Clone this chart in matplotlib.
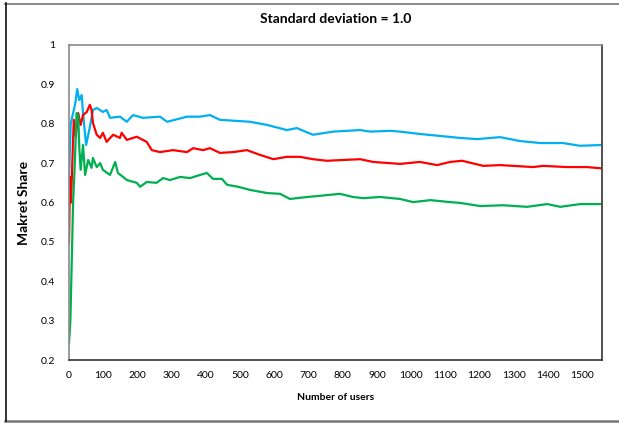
import matplotlib
matplotlib.use("Agg")
import matplotlib.pyplot as plt

title = "Standard deviation = 1.0"
xlabel = "Number of users"
ylabel = "Makret Share"
xticks = list(range(0, 1600, 100))
yticks = [0.2, 0.3, 0.4, 0.5, 0.6, 0.7, 0.8, 0.9, 1.0]
ytick_labels = ["0.2", "0.3", "0.4", "0.5", "0.6", "0.7", "0.8", "0.9", "1"]

blue_x = [0, 5, 12, 18, 24, 30, 37, 41, 50, 61, 70, 81, 99, 110, 120, 149, 169, 187, 216,
          266, 287, 345, 383, 412, 441, 529, 579, 637, 666, 713, 772, 851, 880, 938, 968,
          1026, 1085, 1143, 1193, 1260, 1319, 1377, 1444, 1494, 1553]
blue_y = [0.66, 0.80, 0.827, 0.85, 0.888, 0.86, 0.873, 0.827, 0.746, 0.792, 0.835, 0.84, 0.83,
          0.835, 0.815, 0.818, 0.805, 0.822, 0.815, 0.818, 0.805, 0.818, 0.818, 0.822, 0.81,
          0.805, 0.797, 0.784, 0.789, 0.772, 0.78, 0.784, 0.78, 0.782, 0.78, 0.774, 0.769,
          0.764, 0.761, 0.766, 0.756, 0.751, 0.751, 0.744, 0.746]

red_x = [0, 3, 6, 10, 14, 20, 27, 34, 41, 52, 61, 66, 70, 81, 91, 99, 110, 129, 149, 154, 169,
         198, 227, 242, 266, 304, 345, 363, 392, 412, 441, 480, 520, 558, 597, 637, 675, 713,
         754, 801, 851, 889, 968, 1026, 1076, 1114, 1149, 1211, 1260, 1357, 1386, 1456, 1514,
         1553]
red_y = [0.497, 0.665, 0.60, 0.71, 0.81, 0.767, 0.827, 0.797, 0.822, 0.83, 0.848, 0.835, 0.802,
         0.772, 0.764, 0.777, 0.754, 0.772, 0.764, 0.777, 0.759, 0.767, 0.754, 0.733, 0.728,
         0.733, 0.728, 0.738, 0.733, 0.738, 0.726, 0.728, 0.733, 0.721, 0.71, 0.716, 0.716,
         0.71, 0.706, 0.708, 0.71, 0.703, 0.698, 0.703, 0.695, 0.703, 0.706, 0.693, 0.695,
         0.690, 0.693, 0.690, 0.690, 0.687]

green_x = [0, 4, 8, 12, 17, 22, 27, 30, 34, 41, 47, 56, 66, 70, 81, 91, 99, 120, 135, 143, 158,
           169, 198, 208, 227, 256, 275, 295, 325, 354, 383, 403, 421, 447, 462, 494, 529, 579,
           617, 646, 696, 734, 792, 830, 860, 909, 968, 1006, 1056, 1114, 1143, 1202, 1269,
           1339, 1398, 1436, 1494, 1553]
green_y = [0.243, 0.30, 0.45, 0.60, 0.70, 0.827, 0.822, 0.741, 0.683, 0.746, 0.67, 0.708, 0.688,
           0.713, 0.69, 0.70, 0.683, 0.67, 0.703, 0.675, 0.665, 0.657, 0.650, 0.64, 0.652, 0.65,
           0.662, 0.657, 0.665, 0.662, 0.67, 0.675, 0.66, 0.66, 0.645, 0.64, 0.632, 0.624,
           0.622, 0.609, 0.614, 0.617, 0.622, 0.614, 0.611, 0.614, 0.609, 0.601, 0.606, 0.601,
           0.599, 0.591, 0.593, 0.589, 0.596, 0.589, 0.596, 0.596]

W, H = 619, 424
fig = plt.figure(figsize=(W / 100, H / 100), dpi=100)
plt.rcParams['font.family'] = ['Lato', 'DejaVu Sans']

def fx(px):
    return px / W

def fy(py):
    return 1 - py / H

# figure outline: gray top and bottom, black left, no right edge
fig.add_artist(plt.Line2D([fx(5), fx(619)], [fy(3.5), fy(3.5)], transform=fig.transFigure,
                          color='#808080', linewidth=1.3))
fig.add_artist(plt.Line2D([fx(5), fx(619)], [fy(420.5), fy(420.5)], transform=fig.transFigure,
                          color='#777777', linewidth=1.8))
fig.add_artist(plt.Line2D([fx(5.5), fx(5.5)], [fy(3), fy(421)], transform=fig.transFigure,
                          color='#111111', linewidth=1.2))

left, right, top, bottom = 69, 602, 45, 360
ax = fig.add_axes([left / W, 1 - bottom / H, (right - left) / W, (bottom - top) / H])

ax.plot(blue_x, blue_y, color='#00B0F0', linewidth=1.6)
ax.plot(red_x, red_y, color='#FF0000', linewidth=1.6)
ax.plot(green_x, green_y, color='#00B050', linewidth=1.6)

ax.set_xlim(0, 1558)
ax.set_ylim(0.2, 1.0)
ax.set_xticks(xticks)
ax.set_xticklabels([str(v) for v in xticks], fontsize=7.5)
ax.set_yticks(yticks)
ax.set_yticklabels(ytick_labels, fontsize=7.5)
ax.tick_params(length=0, pad=8)
ax.tick_params(axis='y', pad=10)

for s in ['left', 'top']:
    ax.spines[s].set_color('#8a8a8a')
for s in ['right', 'bottom']:
    ax.spines[s].set_color('#333333')
for s in ax.spines.values():
    s.set_linewidth(1.2)

ax.set_title(title, fontsize=10, fontweight='bold', pad=16)
ax.set_xlabel(xlabel, fontsize=7.5, fontweight='bold', labelpad=9)
ax.set_ylabel(ylabel, fontsize=10, fontweight='bold', labelpad=8)

fig.savefig("out.png", dpi=100)
